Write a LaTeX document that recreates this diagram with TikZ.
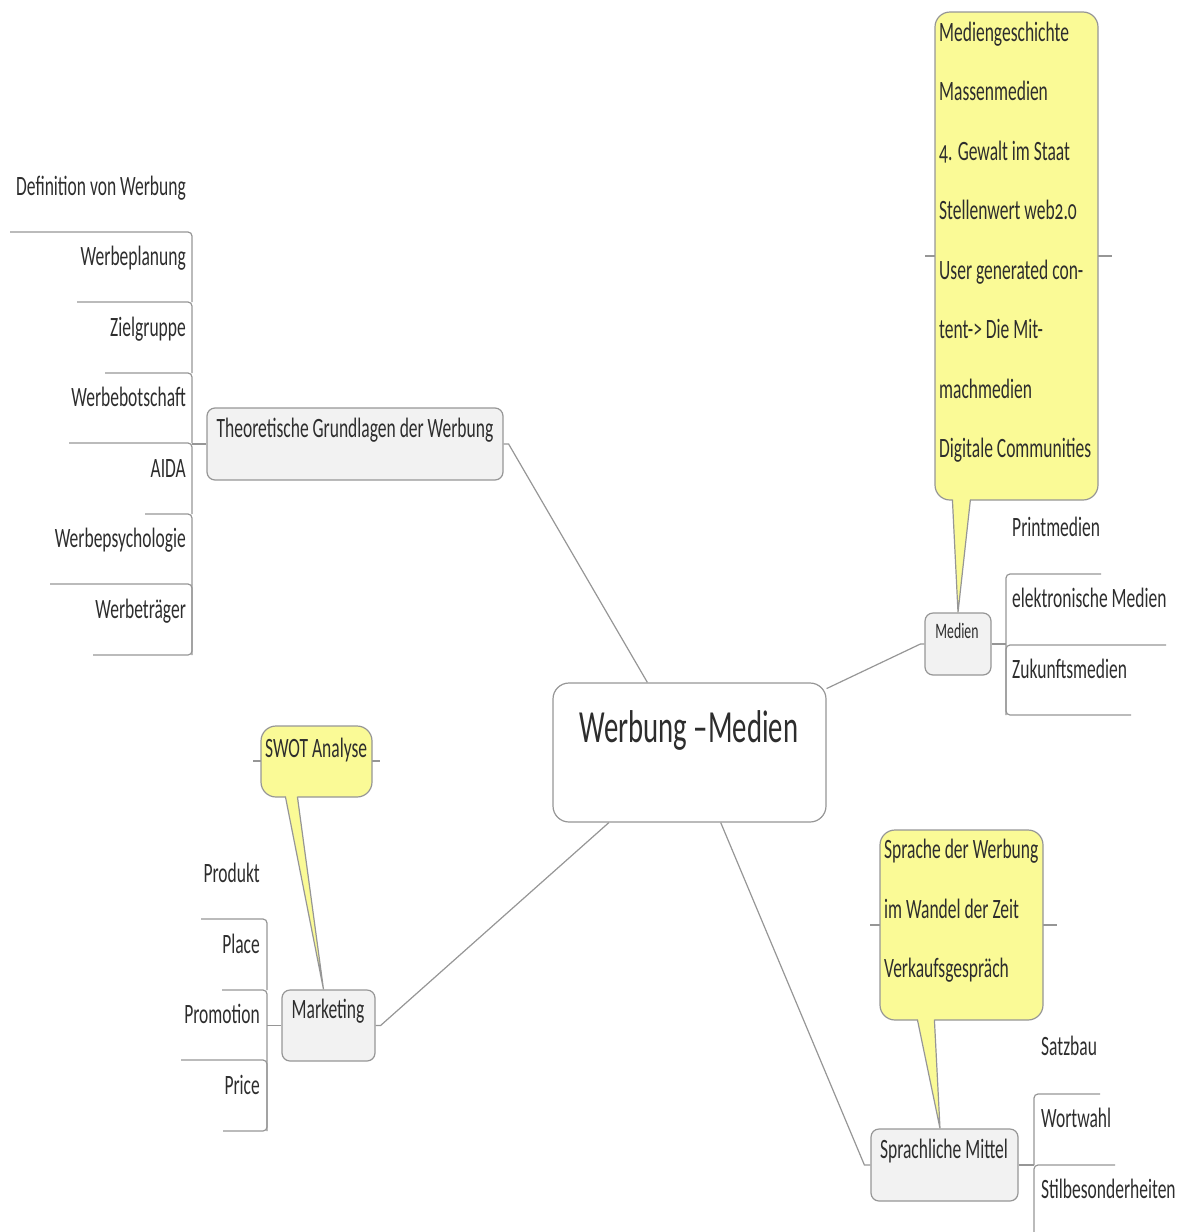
\documentclass[tikz,border=0pt]{standalone}
\usepackage{fontspec}
\setmainfont{Carlito}[FakeStretch=0.625, Numbers=OldStyle]
\definecolor{topicfill}{RGB}{242,242,242}
\definecolor{linegray}{RGB}{150,150,150}
\definecolor{notefill}{RGB}{250,250,150}
\definecolor{ink}{RGB}{45,45,45}
\tikzset{
  topic/.style={draw=linegray, fill=topicfill, line width=1.2pt, rounded corners=8pt, inner sep=0},
  note/.style={draw=linegray, fill=notefill, line width=1.2pt, rounded corners=15pt, inner sep=0},
  branch/.style={draw=linegray, line width=1.2pt, rounded corners=4pt},
  txt/.style={inner sep=0, text=ink, font=\fontsize{28}{30}\selectfont},
}

\begin{document}
\begin{tikzpicture}[x=1pt, y=-1pt]
\useasboundingbox (0, 0) rectangle (1176, 1232);
% central topic
\node [topic, fill=white, rounded corners=16pt, minimum width=273pt, minimum height=139pt] (werbung) at (689.5, 752.5) {};
\node [txt, font=\fontsize{46}{50}\selectfont, anchor=base] (werbung-t) at (689, 742) {Werbung –Medien};
% main topics
\node [topic, minimum width=296pt, minimum height=72pt] (theorie) at (355, 444) {};
\node [txt, anchor=base] (theorie-t) at (355, 437) {Theoretische Grundlagen der Werbung};
\node [topic, minimum width=66pt, minimum height=62pt] (medien) at (958, 644) {};
\node [txt, font=\fontsize{22}{24}\selectfont, anchor=base] (medien-t) at (957, 638) {Medien};
\node [topic, minimum width=93pt, minimum height=71pt] (marketing) at (328.5, 1025.5) {};
\node [txt, anchor=base] (marketing-t) at (328, 1018) {Marketing};
\node [topic, minimum width=147pt, minimum height=72pt] (sprachlich) at (944.5, 1165) {};
\node [txt, anchor=base] (sprachlich-t) at (944, 1158) {Sprachliche Mittel};
% connectors
\draw [branch, rounded corners=0] (werbung.121) -- ([xshift=5pt]theorie.east) -- (theorie.east);
\draw [branch, rounded corners=0] (werbung.25) -- ([xshift=-4pt]medien.west) -- (medien.west);
\draw [branch, rounded corners=0] (werbung.221) -- ([xshift=5pt]marketing.east) -- (marketing.east);
\draw [branch, rounded corners=0] (werbung.294) -- ([xshift=-6pt]sprachlich.west) -- (sprachlich.west);
% Theoretische Grundlagen
\coordinate (theorie-j) at (192, 444);
\draw [branch] (theorie.west) -- (theorie-j);
\draw [branch] (10, 232) -| (192, 302);
\draw [branch] (77, 302) -| (192, 373);
\draw [branch] (105, 373) -| (192, 443);
\draw [branch] (69, 443) -| (192, 514);
\draw [branch] (145, 514) -| (192, 584);
\draw [branch] (50, 584) -| (192, 655);
\draw [branch] (93, 655) -| (192, 584);
\node [txt, anchor=base east] (def) at (186, 195) {Definition von Werbung};
\node [txt, anchor=base east] (plan) at (186, 265.5) {Werbeplanung};
\node [txt, anchor=base east] (ziel) at (186, 336) {Zielgruppe};
\node [txt, anchor=base east] (botschaft) at (186, 406.5) {Werbebotschaft};
\node [txt, anchor=base east] (aida) at (186, 477) {AIDA};
\node [txt, anchor=base east] (psych) at (186, 547.5) {Werbepsychologie};
\node [txt, anchor=base east] (traeger) at (186, 618) {Werbeträger};
% Medien
\coordinate (medien-j) at (1006, 644);
\draw [branch] (medien.east) -- (medien-j);
\draw [branch] (1101, 574) -| (1006, 645);
\draw [branch] (1166, 645) -| (1006, 715);
\draw [branch] (1131, 715) -| (1006, 645);
\node [txt, anchor=base west] (print) at (1012, 536) {Printmedien};
\node [txt, anchor=base west] (elektro) at (1012, 607) {elektronische Medien};
\node [txt, anchor=base west] (zukunft) at (1012, 678) {Zukunftsmedien};
% Marketing
\coordinate (marketing-j) at (267, 1025.5);
\draw [branch] (marketing.west) -- (marketing-j);
\draw [branch] (201, 919) -| (267, 990);
\draw [branch] (222, 990) -| (267, 1060);
\draw [branch] (181, 1060) -| (267, 1131);
\draw [branch] (223, 1131) -| (267, 1060);
\node [txt, anchor=base east] (produkt) at (260, 882) {Produkt};
\node [txt, anchor=base east] (place) at (260, 953) {Place};
\node [txt, anchor=base east] (promotion) at (260, 1023) {Promotion};
\node [txt, anchor=base east] (price) at (260, 1094) {Price};
% Sprachliche Mittel
\coordinate (sprachlich-j) at (1034, 1165);
\draw [branch] (sprachlich.east) -- (sprachlich-j);
\draw [branch] (1100, 1094) -| (1034, 1165);
\draw [branch] (1115, 1165) -| (1034, 1240);
\node [txt, anchor=base west] (satzbau) at (1041, 1055) {Satzbau};
\node [txt, anchor=base west] (wortwahl) at (1041, 1127) {Wortwahl};
\node [txt, anchor=base west] (stil) at (1041, 1198) {Stilbesonderheiten};
% notes
\draw [branch] (925, 256) -- (1112, 256);
\node [note, minimum width=163pt, minimum height=488pt] (geschichte) at (1016.5, 256) {};
\fill [notefill] ([xshift=18pt, yshift=3pt]geschichte.south west) -- (medien.north) -- ([xshift=36pt, yshift=3pt]geschichte.south west) -- cycle;
\draw [linegray, line width=1.2pt] ([xshift=18pt, yshift=1pt]geschichte.south west) -- (medien.north) -- ([xshift=36pt, yshift=1pt]geschichte.south west);
\node [txt, anchor=base west] (g1) at (939, 41) {Mediengeschichte};
\node [txt, anchor=base west] (g2) at (939, 100.5) {Massenmedien};
\node [txt, anchor=base west] (g3) at (939, 160) {4. Gewalt im Staat};
\node [txt, anchor=base west] (g4) at (939, 219.5) {Stellenwert web2.0};
\node [txt, anchor=base west] (g5) at (939, 279) {User generated con-};
\node [txt, anchor=base west] (g6) at (939, 338.5) {tent-> Die Mit-};
\node [txt, anchor=base west] (g7) at (939, 398) {machmedien};
\node [txt, anchor=base west] (g8) at (939, 457.5) {Digitale Communities};
\draw [branch] (253, 761) -- (380, 761);
\node [note, minimum width=111pt, minimum height=71pt] (swot) at (316.5, 761.5) {};
\fill [notefill] ([xshift=25pt, yshift=3pt]swot.south west) -- ([xshift=-5pt]marketing.north) -- ([xshift=37pt, yshift=3pt]swot.south west) -- cycle;
\draw [linegray, line width=1.2pt] ([xshift=25pt, yshift=1pt]swot.south west) -- ([xshift=-5pt]marketing.north) -- ([xshift=37pt, yshift=1pt]swot.south west);
\node [txt, anchor=base west] (swot-t) at (265, 757) {SWOT Analyse};
\draw [branch] (870, 925) -- (1057, 925);
\node [note, minimum width=163pt, minimum height=190pt] (sprache) at (961.5, 925) {};
\fill [notefill] ([xshift=38pt, yshift=3pt]sprache.south west) -- ([xshift=-4.5pt]sprachlich.north) -- ([xshift=55pt, yshift=3pt]sprache.south west) -- cycle;
\draw [linegray, line width=1.2pt] ([xshift=38pt, yshift=1pt]sprache.south west) -- ([xshift=-4.5pt]sprachlich.north) -- ([xshift=55pt, yshift=1pt]sprache.south west);
\node [txt, anchor=base west] (s1) at (884, 858) {Sprache der Werbung};
\node [txt, anchor=base west] (s2) at (884, 918) {im Wandel der Zeit};
\node [txt, anchor=base west] (s3) at (884, 977) {Verkaufsgespräch};
\end{tikzpicture}
\end{document}
